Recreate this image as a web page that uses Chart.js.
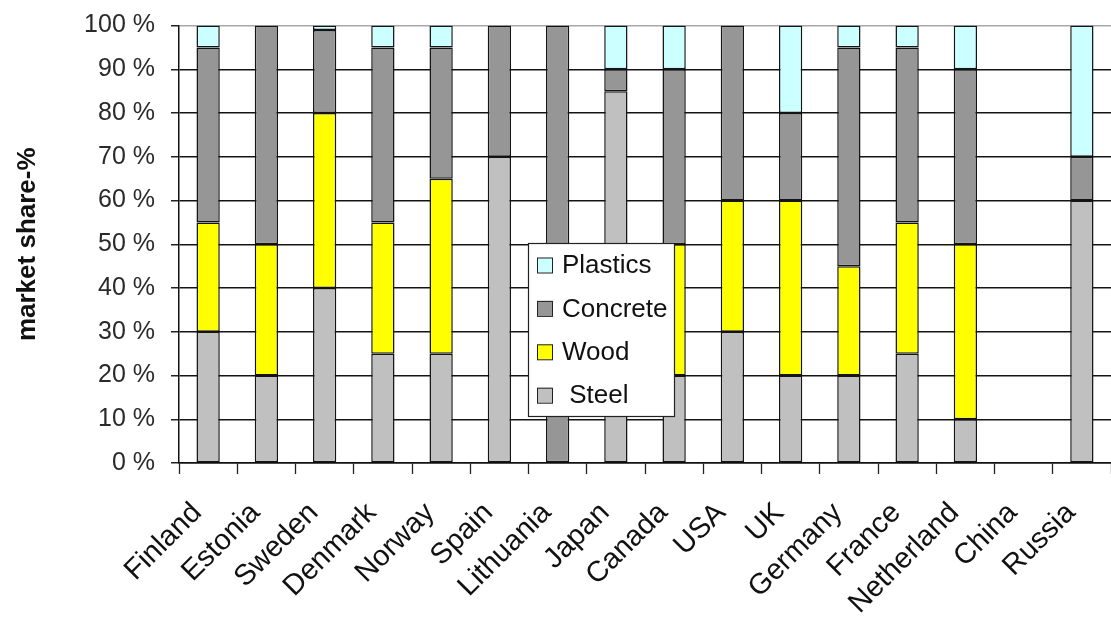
<!DOCTYPE html>
<html>
<head>
<meta charset="utf-8">
<script src="https://cdn.jsdelivr.net/npm/chart.js@4/dist/chart.umd.min.js"></script>
<style>
  html, body { margin: 0; padding: 0; background: #fff; overflow: hidden; }
  #wrap { position: relative; width: 1111px; height: 619px; }
</style>
</head>
<body>
<div id="wrap"><canvas id="c" width="1111" height="619"></canvas></div>
<script>
// Market share of building frame materials by country (%)
const categories = ['Finland', 'Estonia', 'Sweden', 'Denmark', 'Norway', 'Spain', 'Lithuania', 'Japan',
  'Canada', 'USA', 'UK', 'Germany', 'France', 'Netherland', 'China', 'Russia'];
const steel    = [30, 20, 40, 25, 25, 70,   0, 85, 20, 30, 20, 20, 25, 10, 0, 60];
const wood     = [25, 30, 40, 30, 40,  0,   0,  0, 30, 30, 40, 25, 30, 40, 0,  0];
const concrete = [40, 50, 19, 40, 30, 30, 100,  5, 40, 40, 20, 50, 40, 40, 0, 10];
const plastics = [ 5,  0,  1,  5,  5,  0,   0, 10, 10,  0, 20,  5,  5, 10, 0, 30];
const yTicks = [0, 10, 20, 30, 40, 50, 60, 70, 80, 90, 100];
const seriesNames = [' Steel', 'Wood', 'Concrete', 'Plastics'];

const FONT = '"Liberation Sans", Arial, sans-serif';
const EDGE = '#141414';

// Legend box drawn inside the plot, items listed top-down in reverse stack order
const insetLegend = {
  id: 'insetLegend',
  afterDraw(chart) {
    const ctx = chart.ctx;
    const bx = 528, by = 243, bw = 146, bh = 173;
    ctx.save();
    ctx.fillStyle = '#fff';
    ctx.fillRect(bx, by, bw, bh);
    ctx.strokeStyle = '#222';
    ctx.lineWidth = 1.2;
    ctx.strokeRect(bx + 0.5, by + 0.5, bw, bh);
    const items = chart.data.datasets.slice().reverse();
    ctx.font = '26px ' + FONT;
    ctx.textBaseline = 'middle';
    ctx.textAlign = 'left';
    items.forEach((ds, i) => {
      const cy = 265 + i * 43.4;
      ctx.fillStyle = ds.backgroundColor;
      ctx.fillRect(537, cy - 7.5, 15, 15);
      ctx.strokeStyle = '#222';
      ctx.lineWidth = 1;
      ctx.strokeRect(537.5, cy - 7, 15, 15);
      ctx.fillStyle = '#111';
      ctx.fillText(ds.label, 562, cy + 1);
    });
    ctx.restore();
  }
};

const mk = (label, data, color) => ({
  label, data, backgroundColor: color, borderColor: EDGE, borderWidth: 1.5,
  borderSkipped: false, categoryPercentage: 1, barPercentage: 0.4
});

new Chart(document.getElementById('c'), {
  type: 'bar',
  data: {
    labels: categories,
    datasets: [
      mk(seriesNames[0], steel, '#c0c0c0'),
      mk(seriesNames[1], wood, '#ffff00'),
      mk(seriesNames[2], concrete, '#969696'),
      mk(seriesNames[3], plastics, '#ccffff')
    ]
  },
  options: {
    responsive: false,
    animation: false,
    layout: { padding: { top: 25.5, right: 0, left: 0, bottom: 0 } },
    plugins: { legend: { display: false }, tooltip: { enabled: false } },
    scales: {
      x: {
        stacked: true,
        offset: true,
        grid: { offset: true, drawOnChartArea: false, drawTicks: true, tickLength: 11, tickColor: '#222', tickWidth: 1.3 },
        border: { color: '#111', width: 1.5 },
        ticks: { autoSkip: false, minRotation: 45, maxRotation: 45, padding: 22, labelOffset: -11,
          color: '#111', font: { family: FONT, size: 29 } },
        afterFit(s) { s.height = 156; s.paddingLeft = 0; s.paddingRight = 0; }
      },
      y: {
        stacked: true,
        min: 0, max: 100,
        afterBuildTicks(s) { s.ticks = yTicks.map(v => ({ value: v })); },
        grid: {
          color: c => (c.tick && c.tick.value === 100 ? '#a8a8a8' : '#141414'),
          lineWidth: 1.5, tickLength: 8, tickColor: '#222'
        },
        border: { color: '#111', width: 1.5 },
        ticks: { padding: 16, color: '#2a2a2a', font: { family: FONT, size: 25 }, callback: v => v + ' %' },
        title: { display: true, text: 'market share-%', color: '#111', padding: { top: 12, bottom: 0 },
          font: { family: FONT, size: 26, weight: 'bold' } },
        afterFit(s) { s.width = 179; s.paddingTop = 0; s.paddingBottom = 0; }
      }
    }
  },
  plugins: [insetLegend]
});
</script>
</body>
</html>
